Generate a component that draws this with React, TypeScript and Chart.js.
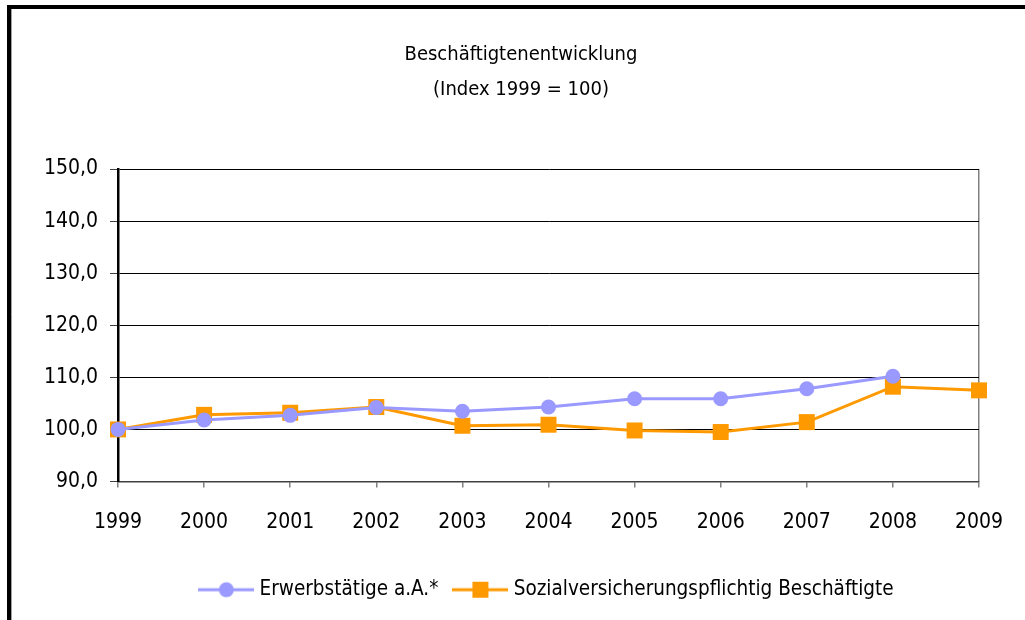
import React, { useEffect, useRef } from "react";
import { Chart, registerables } from "chart.js";

Chart.register(...registerables);

const YEARS = ["1999", "2000", "2001", "2002", "2003", "2004", "2005", "2006", "2007", "2008", "2009"];
const ERWERBSTAETIGE: (number | null)[] = [100, 101.8, 102.7, 104.2, 103.5, 104.3, 105.9, 105.9, 107.8, 110.2, null];
const SV_BESCHAEFTIGTE = [100, 102.8, 103.2, 104.3, 100.7, 100.9, 99.8, 99.5, 101.4, 108.2, 107.5];
const Y_MIN = 90;
const Y_MAX = 150;
const Y_STEP = 10;
const TITLE_LINES = ["Beschäftigtenentwicklung", "(Index 1999 = 100)"];
const LABEL_E = "Erwerbstätige a.A.*";
const LABEL_S = "Sozialversicherungspflichtig Beschäftigte";

const BLUE = "#9999FF";
const ORANGE = "#FF9900";
const FONT = "'Liberation Sans Narrow', 'DejaVu Sans Condensed', 'Arial Narrow', sans-serif";

function makeMarker(color: string, shape: "circle" | "square"): HTMLCanvasElement {
  const c = document.createElement("canvas");
  c.width = 56;
  c.height = 20;
  const ctx = c.getContext("2d")!;
  ctx.strokeStyle = color;
  ctx.lineWidth = 3;
  ctx.beginPath();
  ctx.moveTo(0, 10);
  ctx.lineTo(56, 10);
  ctx.stroke();
  ctx.fillStyle = color;
  if (shape === "circle") {
    ctx.beginPath();
    ctx.arc(28, 10, 7.5, 0, Math.PI * 2);
    ctx.fill();
  } else {
    ctx.fillRect(20, 2, 16, 16);
  }
  return c;
}

const framePlugin = {
  id: "frame",
  beforeDraw(chart: any) {
    const ctx = chart.ctx;
    ctx.save();
    ctx.fillStyle = "#ffffff";
    ctx.fillRect(0, 0, chart.width, chart.height);
    ctx.restore();
  },
  afterDraw(chart: any) {
    const ctx = chart.ctx;
    ctx.save();
    ctx.strokeStyle = "#000000";
    ctx.lineWidth = 4;
    ctx.strokeRect(9, 7, 3000, 3000);
    ctx.strokeStyle = "#a0a0a0";
    ctx.lineWidth = 1;
    ctx.beginPath();
    ctx.moveTo(11.5, 9);
    ctx.lineTo(11.5, chart.height);
    ctx.stroke();
    ctx.restore();
  },
};

export default function App() {
  const ref = useRef<HTMLCanvasElement | null>(null);

  useEffect(() => {
    if (!ref.current) return;
    const markerE = makeMarker(BLUE, "circle");
    const markerS = makeMarker(ORANGE, "square");
    const chart = new Chart(ref.current, {
      type: "line",
      data: {
        labels: YEARS,
        datasets: [
          {
            label: LABEL_E,
            data: ERWERBSTAETIGE,
            borderColor: BLUE,
            backgroundColor: BLUE,
            borderWidth: 3,
            pointStyle: "circle",
            pointRadius: 7.5,
            pointBorderWidth: 0,
            pointHoverRadius: 7.5,
            spanGaps: false,
            clip: false as any,
          },
          {
            label: LABEL_S,
            data: SV_BESCHAEFTIGTE,
            borderColor: ORANGE,
            backgroundColor: ORANGE,
            borderWidth: 3,
            pointStyle: "rect",
            pointRadius: 11.3,
            pointBorderWidth: 0,
            pointHoverRadius: 11.3,
            clip: false as any,
          },
        ],
      },
      options: {
        responsive: false,
        animation: false,
        events: [],
        font: { family: FONT },
        layout: { padding: { left: 17, right: 0, top: 28, bottom: 10 } },
        plugins: {
          title: {
            display: true,
            text: TITLE_LINES,
            color: "#000000",
            font: { family: FONT, size: 20, weight: "normal", lineHeight: 1.75 },
            padding: { top: 9, bottom: 62 },
          },
          legend: {
            display: true,
            position: "bottom",
            fullSize: false,
            labels: {
              usePointStyle: true,
              pointStyleWidth: 46,
              padding: 19,
              color: "#000000",
              font: { family: FONT, size: 20.5 },
              generateLabels: () => [
                { text: LABEL_E, pointStyle: markerE as any, datasetIndex: 0, fillStyle: BLUE, strokeStyle: BLUE, lineWidth: 0, hidden: false },
                { text: LABEL_S, pointStyle: markerS as any, datasetIndex: 1, fillStyle: ORANGE, strokeStyle: ORANGE, lineWidth: 0, hidden: false },
              ],
            },
          },
          tooltip: { enabled: false },
        },
        scales: {
          x: {
            type: "category",
            offset: false,
            afterFit: (scale: any) => {
              scale.height = 79;
              scale.paddingRight = 0;
            },
            grid: {
              offset: false,
              drawOnChartArea: true,
              color: (c: any) => (c.index === YEARS.length - 1 ? "#808080" : "rgba(0,0,0,0)"),
              lineWidth: 1.5,
              tickColor: "#808080",
              tickLength: 6,
            },
            border: { display: true, color: "#404040", width: 1.5 },
            ticks: {
              color: "#000000",
              font: { family: FONT, size: 21, lineHeight: 3.3 },
              padding: 0,
              maxRotation: 0,
              autoSkip: false,
            },
          },
          y: {
            min: Y_MIN,
            max: Y_MAX,
            afterFit: (scale: any) => {
              scale.width = 101;
            },
            grid: {
              color: "#000000",
              lineWidth: 1,
              tickColor: "#404040",
              tickLength: 8,
            },
            border: { display: true, color: "#000000", width: 2.5 },
            ticks: {
              stepSize: Y_STEP,
              color: "#000000",
              font: { family: FONT, size: 21 },
              padding: 12,
              callback: (v: any) => Number(v).toFixed(1).replace(".", ","),
            },
          },
          yRight: {
            type: "linear",
            position: "right",
            display: true,
            afterFit: (scale: any) => {
              scale.width = 46;
            },
            grid: { display: false },
            border: { display: false },
            ticks: { display: false },
          },
        },
      },
      plugins: [framePlugin],
    });
    return () => chart.destroy();
  }, []);

  return (
    <div style={{ position: "absolute", left: 0, top: 0, width: 1025, height: 620, background: "#ffffff" }}>
      <canvas ref={ref} width={1025} height={620} style={{ display: "block", width: 1025, height: 620 }} />
    </div>
  );
}
